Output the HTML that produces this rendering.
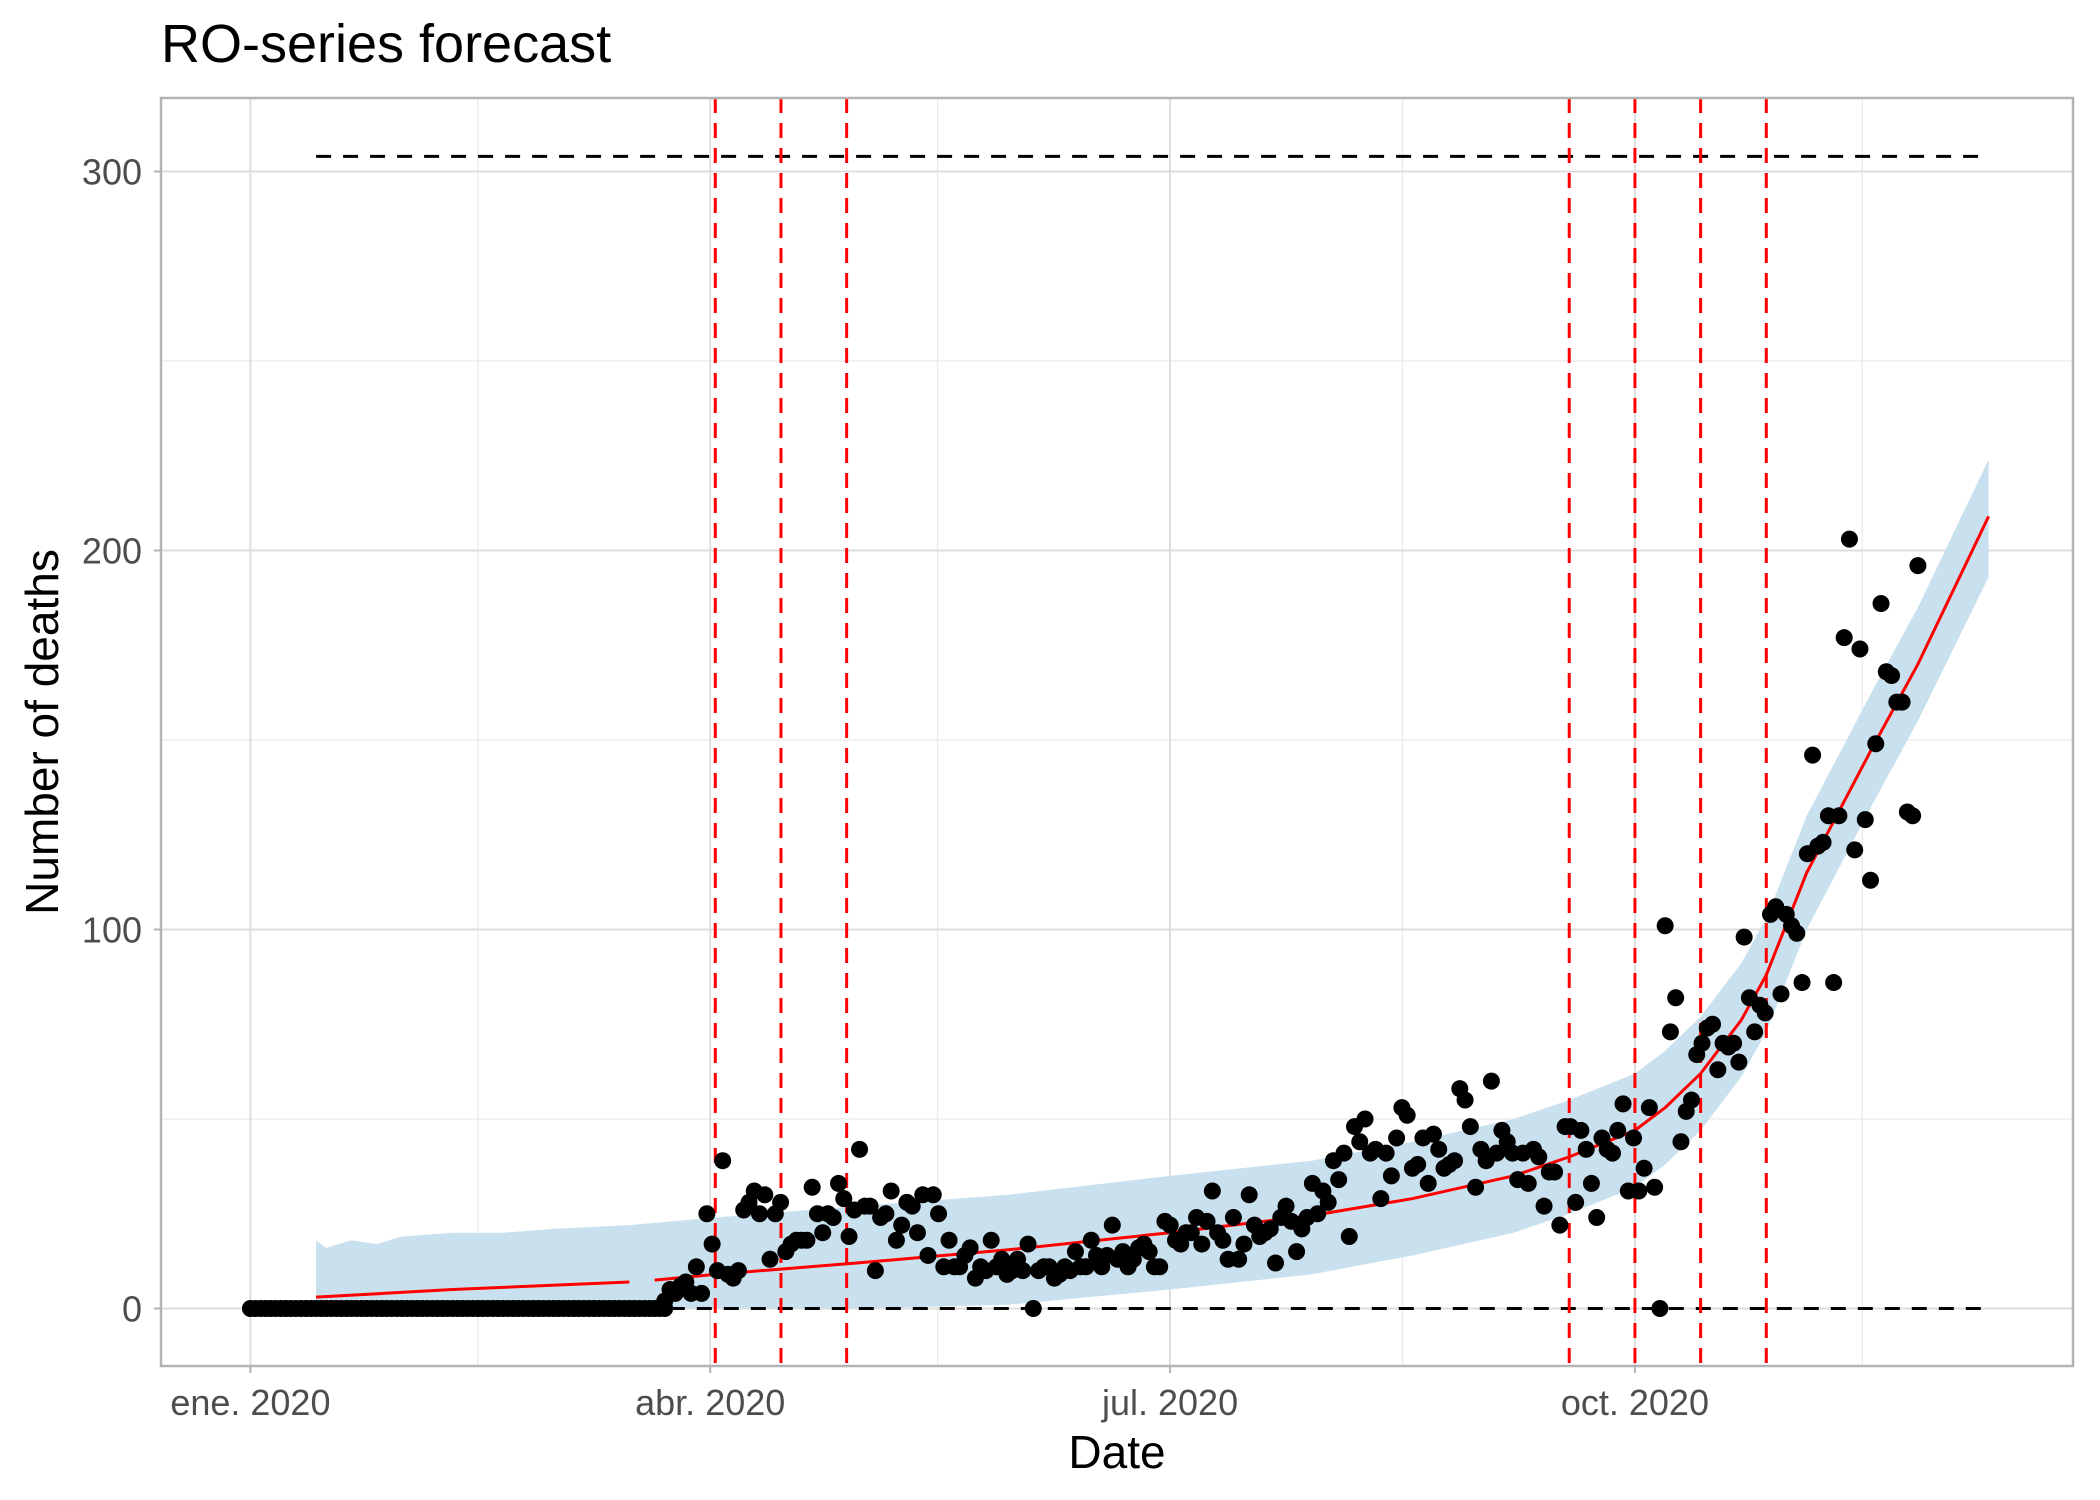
<!DOCTYPE html>
<html><head><meta charset="utf-8"><style>
html,body{margin:0;padding:0;background:#fff;}
svg{display:block;font-family:"Liberation Sans",Arial,sans-serif;}
</style></head><body>
<svg id="chart" width="2100" height="1500" viewBox="0 0 2100 1500" xmlns="http://www.w3.org/2000/svg">
<rect x="0" y="0" width="2100" height="1500" fill="#fff"/>
<text x="161" y="62" font-size="54" fill="#000">RO-series forecast</text>
<g id="grid"></g><g id="band"></g><g id="lines"></g><g id="pts"></g><g id="axes"></g>
<text x="1117" y="1468" font-size="46" text-anchor="middle" fill="#000">Date</text>
<text transform="translate(58,732) rotate(-90)" font-size="46" text-anchor="middle" fill="#000">Number of deaths</text>
</svg>
<script>
const xTickDays=[0,91,182,274];
const xTickLabels=["ene. 2020","abr. 2020","jul. 2020","oct. 2020"];
const xMinorDays=[45,136,228,319];
const yTicks=[0,100,200,300];
const yMinor=[50,150,250];
const changepointDays=[92,105,118,261,274,287,300];
const capValue=304;
const capStartDay=13, capEndDay=343, floorStartDay=83;
const zeroCount=83;
const obsStartDay=82, obsEndDay=330;
const obsValues=[2,5,4,6,7,4,11,4,25,17,10,39,9,8,10,26,28,31,25,30,13,25,28,15,17,18,18,18,32,25,20,25,24,33,29,19,26,42,27,27,10,24,25,31,18,22,28,27,20,30,14,30,25,11,18,11,11,14,16,8,11,10,18,11,13,9,10,13,10,17,0,10,11,11,8,9,11,10,15,11,11,18,14,11,14,22,13,15,11,13,16,17,15,11,11,23,22,18,17,20,20,24,17,23,31,20,18,13,24,13,17,30,22,19,20,21,12,24,27,23,15,21,24,33,25,31,28,39,34,41,19,48,44,50,41,42,29,41,35,45,53,51,37,38,45,33,46,42,37,38,39,58,55,48,32,42,39,60,41,47,44,41,34,41,33,42,40,27,36,36,22,48,48,28,47,42,33,24,45,42,41,47,54,31,45,31,37,53,32,0,101,73,82,44,52,55,67,70,74,75,63,70,69,70,65,98,82,73,80,78,104,106,83,104,101,99,86,120,146,122,123,130,86,130,177,203,121,174,129,113,149,186,168,167,160,160,131,130,196];
const fcDays1=[13,40,75];
const fcVals1=[3,5,7];
const fcDays2=[80,92,120,150,182,210,230,250,261,274,280,287,295,300,308,321,330,344];
const fcVals2=[7.5,9,12,15.5,20,24.5,29,35,40,47,53,62,76,88,115,148,170,209];
const bandDays=[13,15,20,25,30,40,50,60,75,92,120,150,182,210,230,250,261,274,280,287,295,300,308,321,330,344];
const bandUpper=[18,16,18,17,19,20,20,21,22,24,27,30,35,39,44,50,55,62,68,77,91,103,130,163,185,224];
const bandLower=[0,0,0,0,0,0,0,0,0,0,0,1,5,9,14,20,25,32,38,47,61,73,100,133,155,193];

const L=161,R=2073,T=98,B=1366;
const X=d=>250.4+d*5.053;
const Y=v=>1308.5-v*3.79;
const NS="http://www.w3.org/2000/svg";
function mk(p,tag,at){const e=document.createElementNS(NS,tag);for(const k in at)e.setAttribute(k,at[k]);p.appendChild(e);return e;}
const grid=document.getElementById('grid'),band=document.getElementById('band'),lines=document.getElementById('lines'),pts=document.getElementById('pts'),axes=document.getElementById('axes');
yMinor.forEach(v=>{const e=mk(grid,'line',{x1:L,x2:R,y1:Y(v),y2:Y(v),stroke:'#ebebeb','stroke-width':1.3});

});
xMinorDays.forEach(d=>{const e=mk(grid,'line',{x1:X(d),x2:X(d),y1:T,y2:B,stroke:'#ebebeb','stroke-width':1.3});

});
yTicks.forEach(v=>{const e=mk(grid,'line',{x1:L,x2:R,y1:Y(v),y2:Y(v),stroke:'#dedede','stroke-width':2});


const t=mk(axes,'text',{x:L-19,y:Y(v)+13,'font-size':36,'text-anchor':'end',fill:'#4d4d4d'});t.textContent=v;


const k=mk(axes,'line',{x1:L-7,x2:L,y1:Y(v),y2:Y(v),stroke:'#b3b3b3','stroke-width':2});

});
xTickDays.forEach((d,i)=>{const e=mk(grid,'line',{x1:X(d),x2:X(d),y1:T,y2:B,stroke:'#dedede','stroke-width':2});


const t=mk(axes,'text',{x:X(d),y:B+49,'font-size':36,'text-anchor':'middle',fill:'#4d4d4d'});t.textContent=xTickLabels[i];


const k=mk(axes,'line',{x1:X(d),x2:X(d),y1:B,y2:B+7,stroke:'#b3b3b3','stroke-width':2});

});
let dp='';bandDays.forEach((d,i)=>{dp+=(i?'L':'M')+X(d)+','+Y(bandUpper[i]);});
for(let i=bandDays.length-1;i>=0;i--)dp+='L'+X(bandDays[i])+','+Y(bandLower[i]);
const bp=mk(band,'path',{d:dp+'Z',fill:'#c9e1ef'});


const cap=mk(lines,'line',{x1:X(capStartDay),x2:X(capEndDay),y1:Y(capValue),y2:Y(capValue),stroke:'#000','stroke-width':3,'stroke-dasharray':'15,12'});


const fl=mk(lines,'line',{x1:X(floorStartDay),x2:X(capEndDay),y1:Y(0),y2:Y(0),stroke:'#000','stroke-width':3,'stroke-dasharray':'15,12'});


changepointDays.forEach(d=>{const e=mk(lines,'line',{x1:X(d),x2:X(d),y1:T,y2:B,stroke:'#ff0000','stroke-width':3,'stroke-dasharray':'15,10'});

});
const zr=mk(pts,'g',{});


for(let d=0;d<zeroCount;d++)mk(zr,'circle',{cx:X(d),cy:Y(0),r:8.5,fill:'#000'});
const step=(obsEndDay-obsStartDay)/(obsValues.length-1);
obsValues.forEach((v,i)=>{const c=mk(pts,'circle',{cx:X(obsStartDay+i*step),cy:Y(v),r:8.5,fill:'#000'});

});
function pl(days,vals,name){const p=mk(lines,'polyline',{points:days.map((d,i)=>X(d)+','+Y(vals[i])).join(' '),fill:'none',stroke:'#ff0000','stroke-width':3});

}
pl(fcDays1,fcVals1,'forecast-line-early');
pl(fcDays2,fcVals2,'forecast-line');
const fr=mk(axes,'rect',{x:L,y:T,width:R-L,height:B-T,fill:'none',stroke:'#b3b3b3','stroke-width':2.5});


</script>
</body></html>
